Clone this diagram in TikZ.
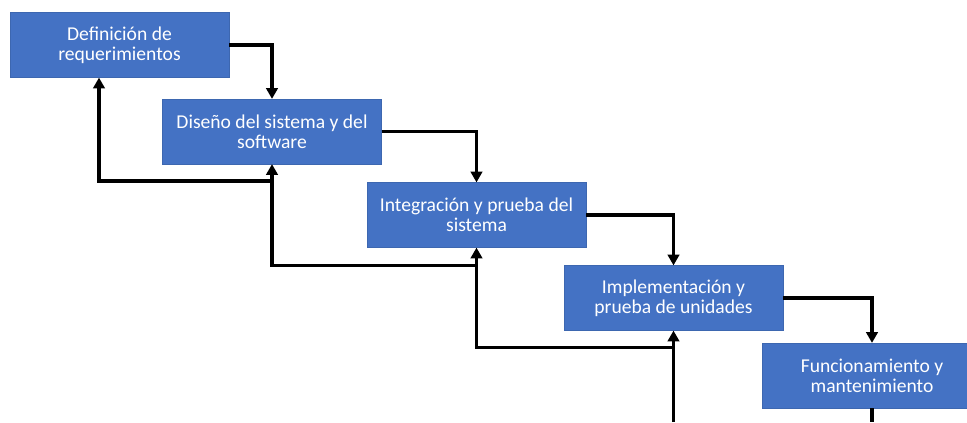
\documentclass[tikz,border=0pt]{standalone}
\usepackage{fontspec}
\setmainfont{Carlito}
\usetikzlibrary{arrows.meta,calc}
\definecolor{boxblue}{HTML}{4472C4}

\begin{document}
\begin{tikzpicture}[x=0.75pt,y=-0.75pt,
    stage/.style={fill=boxblue, draw=boxblue!90!black, line width=0.4pt,
        text=white, inner sep=0pt, minimum width=164pt, minimum height=48.5pt,
        align=center, font=\fontsize{14.7}{15}\selectfont},
    link/.style={line width=2.6pt},
    flow/.style={link, -{Triangle[length=8pt,width=8.5pt]}}]
    \useasboundingbox (0,0) rectangle (967,422);

    % stages of the cascade
    \node[stage] (req)  at (119.5,45)  {Definición de\\requerimientos};
    \node[stage] (dis)  at (272,131.5) {Diseño del sistema y del\\software};
    \node[stage] (integ) at (476.5,215) {Integración y prueba del\\sistema};
    \node[stage] (impl) at (673.5,298) {Implementación y\\prueba de unidades};
    \node[stage] (func) at (872,375.5) {Funcionamiento y\\mantenimiento};

    % going down
    \draw[flow] (req.east) -| (dis.north);
    \draw[flow] (dis.east) -| (integ.north);
    \draw[flow] (integ.east) -| (impl.north);
    \draw[flow] (impl.east) -| (func.north);

    % going back
    \coordinate (j2) at ($(dis.south)+(0,17)$);
    \coordinate (j3) at ($(integ.south)+(0,18)$);
    \coordinate (j4) at ($(impl.south)+(0,17)$);
    \coordinate (b4) at (impl.south |- 0,422);
    \coordinate (b5) at (func.south |- 0,422);
    \draw[flow] (b4) -- (impl.south);
    \draw[flow] (j4) -| (integ.south);
    \draw[flow] (j3) -| (dis.south);
    \draw[flow] (j2) -| ([xshift=-20.5*0.75pt]req.south);
    \draw[link] (func.south) -- (b5);
\end{tikzpicture}
\end{document}
